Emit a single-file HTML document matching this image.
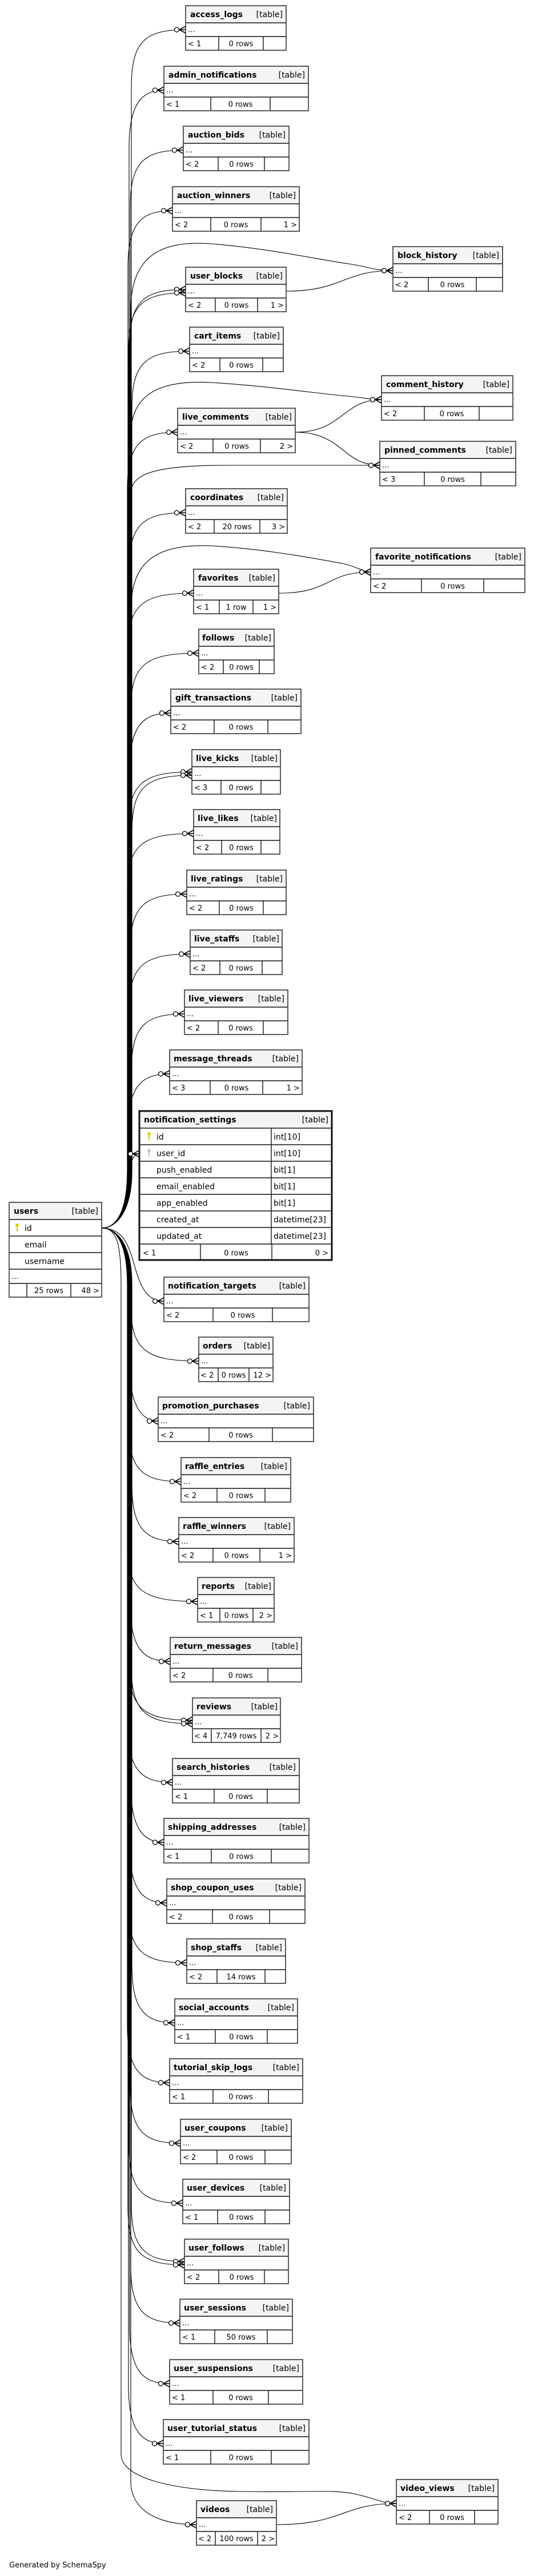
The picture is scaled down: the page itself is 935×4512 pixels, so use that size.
<!DOCTYPE html>
<html><head><meta charset="utf-8"><style>
html,body{margin:0;padding:0;background:#fff;}
svg{display:block;}
.h{fill:#f4f4f4;}
.o{fill:none;stroke:#333;stroke-width:1.6;}
.l{fill:none;stroke:#111;stroke-width:1.4;}
.n{font:bold 14px "DejaVu Sans","Liberation Sans",sans-serif;fill:#000;}
.t{font:14px "DejaVu Sans","Liberation Sans",sans-serif;fill:#000;text-anchor:end;}
.d{font:13px "DejaVu Sans","Liberation Sans",sans-serif;fill:#000;}
.f{font:13px "DejaVu Sans","Liberation Sans",sans-serif;fill:#000;}
.m{text-anchor:middle;}
.e{text-anchor:end;}
.c{font:14px "DejaVu Sans","Liberation Sans",sans-serif;fill:#000;}
.w{fill:none;stroke:#000;stroke-width:1.1;marker-end:url(#cf);}
.w2{fill:none;stroke:#000;stroke-width:1.1;}
</style></head><body>
<svg width="935" height="4512" viewBox="0 0 935 4512" xmlns="http://www.w3.org/2000/svg">
<defs>
<marker id="cf" markerUnits="userSpaceOnUse" markerWidth="22" markerHeight="14" viewBox="0 -7 22 14" refX="22" refY="0" orient="auto">
<path d="M11,0 L22,-6 M11,0 L22,0 M11,0 L22,6" stroke="#000" stroke-width="1.6" fill="none"/>
<circle cx="6.5" cy="0" r="4" fill="#fff" stroke="#000" stroke-width="1.3"/>
</marker>
</defs>

<!-- edges above users -->
<g>
<path class="w" d="M178,2151 C205,2151 230,2120 230,2050 L230,152 C230,72 255,52 325,52"/>
<path class="w" d="M178,2151 C205,2151 226,2120 226,2050 L226,258 C226,178 251,158 287,158"/>
<path class="w" d="M178,2151 C205,2151 228,2120 228,2050 L228,363 C228,283 253,263 321,263"/>
<path class="w" d="M178,2151 C205,2151 224,2120 224,2050 L224,469 C224,389 249,369 302,369"/>
<path class="w" d="M178,2151 C205,2151 229,2120 229,2050 L229,540 C230,450 280,420 370,427 C470,435 560,455 610,462 C640,466 655,474 688,474"/>
<path class="w" d="M178,2151 C205,2151 227,2120 227,2050 L227,607 C227,527 252,507 325,507"/>
<path class="w" d="M178,2151 C205,2151 225,2120 225,2050 L225,613 C225,533 250,513 325,513"/>
<path class="w" d="M178,2151 C205,2151 231,2120 231,2050 L231,715 C231,635 256,615 332,615"/>
<path class="w" d="M178,2151 C205,2151 229,2120 229,2050 L229,760 C230,690 280,665 370,670 C470,676 560,690 610,694 C640,697 650,700 668,700"/>
<path class="w" d="M178,2151 C205,2151 223,2120 223,2050 L223,857 C223,777 248,757 311,757"/>
<path class="w" d="M178,2151 C205,2151 228,2120 228,2050 L228,870 C229,835 250,815 400,815 L665,815"/>
<path class="w" d="M178,2151 C205,2151 226,2120 226,2050 L226,998 C226,918 251,898 325,898"/>
<path class="w" d="M178,2151 C205,2151 230,2120 230,2050 L230,1060 C231,980 280,952 370,956 C470,962 560,980 600,987 C625,992 635,1002 649,1002"/>
<path class="w" d="M178,2151 C205,2151 224,2120 224,2050 L224,1139 C224,1059 249,1039 339,1039"/>
<path class="w" d="M178,2151 C205,2151 229,2120 229,2050 L229,1244 C229,1164 254,1144 348,1144"/>
<path class="w" d="M178,2151 C205,2151 227,2120 227,2050 L227,1349 C227,1269 252,1249 299,1249"/>
<path class="w" d="M178,2151 C205,2151 225,2120 225,2050 L225,1452 C225,1372 250,1352 336,1352"/>
<path class="w" d="M178,2151 C205,2151 231,2120 231,2050 L231,1458 C231,1378 256,1358 336,1358"/>
<path class="w" d="M178,2151 C205,2151 223,2120 223,2050 L223,1560 C223,1480 248,1460 339,1460"/>
<path class="w" d="M178,2151 C205,2151 228,2120 228,2050 L228,1666 C228,1586 253,1566 327,1566"/>
<path class="w" d="M178,2151 C205,2151 226,2120 226,2050 L226,1771 C226,1691 251,1671 333,1671"/>
<path class="w" d="M178,2151 C205,2151 230,2120 230,2050 L230,1876 C230,1796 255,1776 323,1776"/>
<path class="w" d="M178,2151 C205,2151 224,2120 224,2050 L224,1981 C224,1901 249,1881 297,1881"/>
<path class="w" d="M178,2151 C205,2151 220,2120 224,2080 C228,2040 230,2021 244,2021"/>
</g>
<!-- edges below users -->
<g>
<path class="w" d="M178,2151 C215,2151 225,2180 235,2215 C245,2250 255,2279 287,2279"/>
<path class="w" d="M178,2151 C205,2151 229,2180 229,2250 L229,2284 C229,2364 254,2384 348,2384"/>
<path class="w" d="M178,2151 C205,2151 227,2180 227,2250 L227,2389 C227,2469 252,2489 277,2489"/>
<path class="w" d="M178,2151 C205,2151 225,2180 225,2250 L225,2495 C225,2575 250,2595 317,2595"/>
<path class="w" d="M178,2151 C205,2151 231,2180 231,2250 L231,2600 C231,2680 256,2700 313,2700"/>
<path class="w" d="M178,2151 C205,2151 223,2180 223,2250 L223,2705 C223,2785 248,2805 346,2805"/>
<path class="w" d="M178,2151 C205,2151 228,2180 228,2250 L228,2810 C228,2890 253,2910 298,2910"/>
<path class="w" d="M178,2151 C205,2151 226,2180 226,2250 L226,2913 C226,2993 251,3013 337,3013"/>
<path class="w" d="M178,2151 C205,2151 230,2180 230,2250 L230,2919 C230,2999 255,3019 337,3019"/>
<path class="w" d="M178,2151 C205,2151 224,2180 224,2250 L224,3022 C224,3102 249,3122 302,3122"/>
<path class="w" d="M178,2151 C205,2151 229,2180 229,2250 L229,3127 C229,3207 254,3227 287,3227"/>
<path class="w" d="M178,2151 C205,2151 227,2180 227,2250 L227,3233 C227,3313 252,3333 292,3333"/>
<path class="w" d="M178,2151 C205,2151 225,2180 225,2250 L225,3338 C225,3418 250,3438 327,3438"/>
<path class="w" d="M178,2151 C205,2151 231,2180 231,2250 L231,3443 C231,3523 256,3543 306,3543"/>
<path class="w" d="M178,2151 C205,2151 223,2180 223,2250 L223,3548 C223,3628 248,3648 297,3648"/>
<path class="w" d="M178,2151 C205,2151 228,2180 228,2250 L228,3654 C228,3734 253,3754 316,3754"/>
<path class="w" d="M178,2151 C205,2151 226,2180 226,2250 L226,3759 C226,3839 251,3859 320,3859"/>
<path class="w" d="M178,2151 C205,2151 230,2180 230,2250 L230,3861 C230,3941 255,3961 323,3961"/>
<path class="w" d="M178,2151 C205,2151 224,2180 224,2250 L224,3867 C224,3947 249,3967 323,3967"/>
<path class="w" d="M178,2151 C205,2151 229,2180 229,2250 L229,3969 C229,4049 254,4069 315,4069"/>
<path class="w" d="M178,2151 C205,2151 227,2180 227,2250 L227,4075 C227,4155 252,4175 297,4175"/>
<path class="w" d="M178,2151 C205,2151 225,2180 225,2250 L225,4180 C225,4260 250,4280 286,4280"/>
<path class="w" d="M178,2151 C205,2151 212,2180 212,2250 L212,4300 C214,4340 300,4362 420,4364 C540,4366 580,4360 620,4368 C650,4374 670,4385 694,4385"/>
<path class="w" d="M178,2151 C205,2151 229,2180 229,2250 L229,4350 C232,4400 280,4422 344,4422"/>
</g>
<!-- table to table -->
<path class="w" d="M501,510 C600,510 600,474 688,474"/>
<path class="w" d="M517,757 C600,757 600,700 668,700"/>
<path class="w" d="M517,757 C600,757 600,815 665,815"/>
<path class="w" d="M488,1039 C580,1039 570,1002 649,1002"/>
<path class="w" d="M484,4422 C600,4422 600,4385 694,4385"/>

<!-- tables -->
<g transform="translate(325,10)"><rect class="h" width="176" height="30"/><rect width="176" height="48" y="30" fill="#fff"/><path class="l" d="M0,30H176M0,54H176M58,54V78M136,54V78"/><rect class="o" width="176" height="78"/><text class="n" x="8" y="20">access_logs</text><text class="t" x="170" y="20">[table]</text><text class="d" x="4" y="46">...</text><text class="f" x="4" y="71">&lt; 1</text><text class="f m" x="97" y="71">0 rows</text></g>

<g transform="translate(287,116)"><rect class="h" width="253" height="30"/><rect width="253" height="48" y="30" fill="#fff"/><path class="l" d="M0,30H253M0,54H253M82,54V78M186,54V78"/><rect class="o" width="253" height="78"/><text class="n" x="8" y="20">admin_notifications</text><text class="t" x="247" y="20">[table]</text><text class="d" x="4" y="46">...</text><text class="f" x="4" y="71">&lt; 1</text><text class="f m" x="134" y="71">0 rows</text></g>

<g transform="translate(321,221)"><rect class="h" width="185" height="30"/><rect width="185" height="48" y="30" fill="#fff"/><path class="l" d="M0,30H185M0,54H185M61,54V78M142,54V78"/><rect class="o" width="185" height="78"/><text class="n" x="8" y="20">auction_bids</text><text class="t" x="179" y="20">[table]</text><text class="d" x="4" y="46">...</text><text class="f" x="4" y="71">&lt; 2</text><text class="f m" x="101.5" y="71">0 rows</text></g>

<g transform="translate(302,327)"><rect class="h" width="222" height="30"/><rect width="222" height="48" y="30" fill="#fff"/><path class="l" d="M0,30H222M0,54H222M67,54V78M155,54V78"/><rect class="o" width="222" height="78"/><text class="n" x="8" y="20">auction_winners</text><text class="t" x="216" y="20">[table]</text><text class="d" x="4" y="46">...</text><text class="f" x="4" y="71">&lt; 2</text><text class="f m" x="111" y="71">0 rows</text><text class="f e" x="218" y="71">1 &gt;</text></g>

<g transform="translate(688,432)"><rect class="h" width="192" height="30"/><rect width="192" height="48" y="30" fill="#fff"/><path class="l" d="M0,30H192M0,54H192M62,54V78M146,54V78"/><rect class="o" width="192" height="78"/><text class="n" x="8" y="20">block_history</text><text class="t" x="186" y="20">[table]</text><text class="d" x="4" y="46">...</text><text class="f" x="4" y="71">&lt; 2</text><text class="f m" x="104" y="71">0 rows</text></g>

<g transform="translate(325,468)"><rect class="h" width="176" height="30"/><rect width="176" height="48" y="30" fill="#fff"/><path class="l" d="M0,30H176M0,54H176M52,54V78M126,54V78"/><rect class="o" width="176" height="78"/><text class="n" x="8" y="20">user_blocks</text><text class="t" x="170" y="20">[table]</text><text class="d" x="4" y="46">...</text><text class="f" x="4" y="71">&lt; 2</text><text class="f m" x="89" y="71">0 rows</text><text class="f e" x="172" y="71">1 &gt;</text></g>

<g transform="translate(332,573)"><rect class="h" width="164" height="30"/><rect width="164" height="48" y="30" fill="#fff"/><path class="l" d="M0,30H164M0,54H164M53,54V78M128,54V78"/><rect class="o" width="164" height="78"/><text class="n" x="8" y="20">cart_items</text><text class="t" x="158" y="20">[table]</text><text class="d" x="4" y="46">...</text><text class="f" x="4" y="71">&lt; 2</text><text class="f m" x="90.5" y="71">0 rows</text></g>

<g transform="translate(668,658)"><rect class="h" width="230" height="30"/><rect width="230" height="48" y="30" fill="#fff"/><path class="l" d="M0,30H230M0,54H230M75,54V78M171,54V78"/><rect class="o" width="230" height="78"/><text class="n" x="8" y="20">comment_history</text><text class="t" x="224" y="20">[table]</text><text class="d" x="4" y="46">...</text><text class="f" x="4" y="71">&lt; 2</text><text class="f m" x="123" y="71">0 rows</text></g>

<g transform="translate(311,715)"><rect class="h" width="206" height="30"/><rect width="206" height="48" y="30" fill="#fff"/><path class="l" d="M0,30H206M0,54H206M62,54V78M145,54V78"/><rect class="o" width="206" height="78"/><text class="n" x="8" y="20">live_comments</text><text class="t" x="200" y="20">[table]</text><text class="d" x="4" y="46">...</text><text class="f" x="4" y="71">&lt; 2</text><text class="f m" x="103.5" y="71">0 rows</text><text class="f e" x="202" y="71">2 &gt;</text></g>

<g transform="translate(665,773)"><rect class="h" width="238" height="30"/><rect width="238" height="48" y="30" fill="#fff"/><path class="l" d="M0,30H238M0,54H238M78,54V78M177,54V78"/><rect class="o" width="238" height="78"/><text class="n" x="8" y="20">pinned_comments</text><text class="t" x="232" y="20">[table]</text><text class="d" x="4" y="46">...</text><text class="f" x="4" y="71">&lt; 3</text><text class="f m" x="127.5" y="71">0 rows</text></g>

<g transform="translate(325,856)"><rect class="h" width="178" height="30"/><rect width="178" height="48" y="30" fill="#fff"/><path class="l" d="M0,30H178M0,54H178M50,54V78M130,54V78"/><rect class="o" width="178" height="78"/><text class="n" x="8" y="20">coordinates</text><text class="t" x="172" y="20">[table]</text><text class="d" x="4" y="46">...</text><text class="f" x="4" y="71">&lt; 2</text><text class="f m" x="90" y="71">20 rows</text><text class="f e" x="174" y="71">3 &gt;</text></g>

<g transform="translate(649,960)"><rect class="h" width="270" height="30"/><rect width="270" height="48" y="30" fill="#fff"/><path class="l" d="M0,30H270M0,54H270M89,54V78M198,54V78"/><rect class="o" width="270" height="78"/><text class="n" x="8" y="20">favorite_notifications</text><text class="t" x="264" y="20">[table]</text><text class="d" x="4" y="46">...</text><text class="f" x="4" y="71">&lt; 2</text><text class="f m" x="143.5" y="71">0 rows</text></g>

<g transform="translate(339,997)"><rect class="h" width="149" height="30"/><rect width="149" height="48" y="30" fill="#fff"/><path class="l" d="M0,30H149M0,54H149M45,54V78M104,54V78"/><rect class="o" width="149" height="78"/><text class="n" x="8" y="20">favorites</text><text class="t" x="143" y="20">[table]</text><text class="d" x="4" y="46">...</text><text class="f" x="4" y="71">&lt; 1</text><text class="f m" x="74.5" y="71">1 row</text><text class="f e" x="145" y="71">1 &gt;</text></g>

<g transform="translate(348,1102)"><rect class="h" width="132" height="30"/><rect width="132" height="48" y="30" fill="#fff"/><path class="l" d="M0,30H132M0,54H132M43,54V78M106,54V78"/><rect class="o" width="132" height="78"/><text class="n" x="6" y="20">follows</text><text class="t" x="127" y="20">[table]</text><text class="d" x="4" y="46">...</text><text class="f" x="4" y="71">&lt; 2</text><text class="f m" x="74.5" y="71">0 rows</text></g>

<g transform="translate(299,1207)"><rect class="h" width="228" height="30"/><rect width="228" height="48" y="30" fill="#fff"/><path class="l" d="M0,30H228M0,54H228M76,54V78M170,54V78"/><rect class="o" width="228" height="78"/><text class="n" x="8" y="20">gift_transactions</text><text class="t" x="222" y="20">[table]</text><text class="d" x="4" y="46">...</text><text class="f" x="4" y="71">&lt; 2</text><text class="f m" x="123" y="71">0 rows</text></g>

<g transform="translate(336,1313)"><rect class="h" width="155" height="30"/><rect width="155" height="48" y="30" fill="#fff"/><path class="l" d="M0,30H155M0,54H155M51,54V78M121,54V78"/><rect class="o" width="155" height="78"/><text class="n" x="7" y="20">live_kicks</text><text class="t" x="150" y="20">[table]</text><text class="d" x="4" y="46">...</text><text class="f" x="4" y="71">&lt; 3</text><text class="f m" x="86" y="71">0 rows</text></g>

<g transform="translate(339,1418)"><rect class="h" width="151" height="30"/><rect width="151" height="48" y="30" fill="#fff"/><path class="l" d="M0,30H151M0,54H151M49,54V78M118,54V78"/><rect class="o" width="151" height="78"/><text class="n" x="7" y="20">live_likes</text><text class="t" x="146" y="20">[table]</text><text class="d" x="4" y="46">...</text><text class="f" x="4" y="71">&lt; 2</text><text class="f m" x="83.5" y="71">0 rows</text></g>

<g transform="translate(327,1524)"><rect class="h" width="174" height="30"/><rect width="174" height="48" y="30" fill="#fff"/><path class="l" d="M0,30H174M0,54H174M57,54V78M134,54V78"/><rect class="o" width="174" height="78"/><text class="n" x="7" y="20">live_ratings</text><text class="t" x="168" y="20">[table]</text><text class="d" x="4" y="46">...</text><text class="f" x="4" y="71">&lt; 2</text><text class="f m" x="95.5" y="71">0 rows</text></g>

<g transform="translate(333,1629)"><rect class="h" width="161" height="30"/><rect width="161" height="48" y="30" fill="#fff"/><path class="l" d="M0,30H161M0,54H161M52,54V78M126,54V78"/><rect class="o" width="161" height="78"/><text class="n" x="7" y="20">live_staffs</text><text class="t" x="156" y="20">[table]</text><text class="d" x="4" y="46">...</text><text class="f" x="4" y="71">&lt; 2</text><text class="f m" x="89" y="71">0 rows</text></g>

<g transform="translate(323,1734)"><rect class="h" width="181" height="30"/><rect width="181" height="48" y="30" fill="#fff"/><path class="l" d="M0,30H181M0,54H181M59,54V78M138,54V78"/><rect class="o" width="181" height="78"/><text class="n" x="7" y="20">live_viewers</text><text class="t" x="175" y="20">[table]</text><text class="d" x="4" y="46">...</text><text class="f" x="4" y="71">&lt; 2</text><text class="f m" x="98.5" y="71">0 rows</text></g>

<g transform="translate(297,1839)"><rect class="h" width="232" height="30"/><rect width="232" height="48" y="30" fill="#fff"/><path class="l" d="M0,30H232M0,54H232M71,54V78M163,54V78"/><rect class="o" width="232" height="78"/><text class="n" x="7" y="20">message_threads</text><text class="t" x="226" y="20">[table]</text><text class="d" x="4" y="46">...</text><text class="f" x="4" y="71">&lt; 3</text><text class="f m" x="117" y="71">0 rows</text><text class="f e" x="228" y="71">1 &gt;</text></g>

<!-- notification_settings -->
<g transform="translate(244,1946)"><rect class="h" width="337" height="30"/><rect width="337" height="231" y="30" fill="#fff"/>
<path class="l" stroke-width="1.8" d="M0,30H337M0,59H337M0,88H337M0,117H337M0,146H337M0,175H337M0,204H337M0,233H337M231,30V233M107,233V261M232,233V261"/>
<rect width="337" height="261" fill="none" stroke="#111" stroke-width="3"/>
<text class="n" x="8" y="20">notification_settings</text><text class="t" x="331" y="20">[table]</text>
<g fill="#d8d000"><circle cx="17" cy="40" r="3"/><rect x="16" y="40" width="2.2" height="11"/></g>
<g fill="#c4c4c4"><circle cx="17" cy="69" r="3"/><rect x="16" y="69" width="2.2" height="11"/></g>
<text class="c" x="30" y="50">id</text><text class="c" x="235" y="50">int[10]</text>
<text class="c" x="30" y="79">user_id</text><text class="c" x="235" y="79">int[10]</text>
<text class="c" x="30" y="108">push_enabled</text><text class="c" x="235" y="108">bit[1]</text>
<text class="c" x="30" y="137">email_enabled</text><text class="c" x="235" y="137">bit[1]</text>
<text class="c" x="30" y="166">app_enabled</text><text class="c" x="235" y="166">bit[1]</text>
<text class="c" x="30" y="195">created_at</text><text class="c" x="235" y="195">datetime[23]</text>
<text class="c" x="30" y="224">updated_at</text><text class="c" x="235" y="224">datetime[23]</text>
<text class="f" x="6" y="253">&lt; 1</text><text class="f m" x="169.5" y="253">0 rows</text><text class="f e" x="331" y="253">0 &gt;</text>
</g>

<!-- users -->
<g transform="translate(16,2106)"><rect class="h" width="162" height="30"/><rect width="162" height="136" y="30" fill="#fff"/>
<path class="l" stroke-width="1.6" d="M0,30H162M0,59H162M0,88H162M0,117H162M0,142H162M31,142V166M108,142V166"/>
<rect class="o" width="162" height="166"/>
<text class="n" x="8" y="20">users</text><text class="t" x="156" y="20">[table]</text>
<g fill="#d8d000"><circle cx="14" cy="40" r="3"/><rect x="13" y="40" width="2.2" height="11"/></g>
<text class="c" x="27" y="50">id</text><text class="c" x="27" y="79">email</text><text class="c" x="27" y="108">username</text>
<text class="d" x="4" y="134">...</text>
<text class="f m" x="69.5" y="159">25 rows</text><text class="f e" x="158" y="159">48 &gt;</text>
</g>

<g transform="translate(287,2237)"><rect class="h" width="254" height="30"/><rect width="254" height="48" y="30" fill="#fff"/><path class="l" d="M0,30H254M0,54H254M86,54V78M190,54V78"/><rect class="o" width="254" height="78"/><text class="n" x="7" y="20">notification_targets</text><text class="t" x="248" y="20">[table]</text><text class="d" x="4" y="46">...</text><text class="f" x="4" y="71">&lt; 2</text><text class="f m" x="138" y="71">0 rows</text></g>

<g transform="translate(348,2342)"><rect class="h" width="130" height="30"/><rect width="130" height="48" y="30" fill="#fff"/><path class="l" d="M0,30H130M0,54H130M34,54V78M88,54V78"/><rect class="o" width="130" height="78"/><text class="n" x="7" y="20">orders</text><text class="t" x="125" y="20">[table]</text><text class="d" x="4" y="46">...</text><text class="f" x="3" y="71">&lt; 2</text><text class="f m" x="61" y="71">0 rows</text><text class="f e" x="127" y="71">12 &gt;</text></g>

<g transform="translate(277,2447)"><rect class="h" width="272" height="30"/><rect width="272" height="48" y="30" fill="#fff"/><path class="l" d="M0,30H272M0,54H272M89,54V78M200,54V78"/><rect class="o" width="272" height="78"/><text class="n" x="7" y="20">promotion_purchases</text><text class="t" x="266" y="20">[table]</text><text class="d" x="4" y="46">...</text><text class="f" x="4" y="71">&lt; 2</text><text class="f m" x="144.5" y="71">0 rows</text></g>

<g transform="translate(317,2553)"><rect class="h" width="192" height="30"/><rect width="192" height="48" y="30" fill="#fff"/><path class="l" d="M0,30H192M0,54H192M63,54V78M147,54V78"/><rect class="o" width="192" height="78"/><text class="n" x="7" y="20">raffle_entries</text><text class="t" x="186" y="20">[table]</text><text class="d" x="4" y="46">...</text><text class="f" x="4" y="71">&lt; 2</text><text class="f m" x="105" y="71">0 rows</text></g>

<g transform="translate(313,2658)"><rect class="h" width="202" height="30"/><rect width="202" height="48" y="30" fill="#fff"/><path class="l" d="M0,30H202M0,54H202M60,54V78M142,54V78"/><rect class="o" width="202" height="78"/><text class="n" x="7" y="20">raffle_winners</text><text class="t" x="196" y="20">[table]</text><text class="d" x="4" y="46">...</text><text class="f" x="4" y="71">&lt; 2</text><text class="f m" x="101" y="71">0 rows</text><text class="f e" x="198" y="71">1 &gt;</text></g>

<g transform="translate(346,2763)"><rect class="h" width="134" height="30"/><rect width="134" height="48" y="30" fill="#fff"/><path class="l" d="M0,30H134M0,54H134M39,54V78M97,54V78"/><rect class="o" width="134" height="78"/><text class="n" x="7" y="20">reports</text><text class="t" x="129" y="20">[table]</text><text class="d" x="4" y="46">...</text><text class="f" x="4" y="71">&lt; 1</text><text class="f m" x="68" y="71">0 rows</text><text class="f e" x="131" y="71">2 &gt;</text></g>

<g transform="translate(298,2868)"><rect class="h" width="230" height="30"/><rect width="230" height="48" y="30" fill="#fff"/><path class="l" d="M0,30H230M0,54H230M75,54V78M171,54V78"/><rect class="o" width="230" height="78"/><text class="n" x="7" y="20">return_messages</text><text class="t" x="224" y="20">[table]</text><text class="d" x="4" y="46">...</text><text class="f" x="4" y="71">&lt; 2</text><text class="f m" x="123" y="71">0 rows</text></g>

<g transform="translate(337,2974)"><rect class="h" width="154" height="30"/><rect width="154" height="48" y="30" fill="#fff"/><path class="l" d="M0,30H154M0,54H154M33,54V78M120,54V78"/><rect class="o" width="154" height="78"/><text class="n" x="7" y="20">reviews</text><text class="t" x="149" y="20">[table]</text><text class="d" x="4" y="46">...</text><text class="f" x="3" y="71">&lt; 4</text><text class="f m" x="76.5" y="71">7,749 rows</text><text class="f e" x="151" y="71">2 &gt;</text></g>

<g transform="translate(302,3080)"><rect class="h" width="222" height="30"/><rect width="222" height="48" y="30" fill="#fff"/><path class="l" d="M0,30H222M0,54H222M73,54V78M166,54V78"/><rect class="o" width="222" height="78"/><text class="n" x="7" y="20">search_histories</text><text class="t" x="216" y="20">[table]</text><text class="d" x="4" y="46">...</text><text class="f" x="4" y="71">&lt; 1</text><text class="f m" x="119.5" y="71">0 rows</text></g>

<g transform="translate(287,3185)"><rect class="h" width="254" height="30"/><rect width="254" height="48" y="30" fill="#fff"/><path class="l" d="M0,30H254M0,54H254M83,54V78M188,54V78"/><rect class="o" width="254" height="78"/><text class="n" x="7" y="20">shipping_addresses</text><text class="t" x="248" y="20">[table]</text><text class="d" x="4" y="46">...</text><text class="f" x="4" y="71">&lt; 1</text><text class="f m" x="135.5" y="71">0 rows</text></g>

<g transform="translate(292,3291)"><rect class="h" width="242" height="30"/><rect width="242" height="48" y="30" fill="#fff"/><path class="l" d="M0,30H242M0,54H242M80,54V78M180,54V78"/><rect class="o" width="242" height="78"/><text class="n" x="7" y="20">shop_coupon_uses</text><text class="t" x="236" y="20">[table]</text><text class="d" x="4" y="46">...</text><text class="f" x="4" y="71">&lt; 2</text><text class="f m" x="130" y="71">0 rows</text></g>

<g transform="translate(327,3396)"><rect class="h" width="173" height="30"/><rect width="173" height="48" y="30" fill="#fff"/><path class="l" d="M0,30H173M0,54H173M53,54V78M137,54V78"/><rect class="o" width="173" height="78"/><text class="n" x="7" y="20">shop_staffs</text><text class="t" x="167" y="20">[table]</text><text class="d" x="4" y="46">...</text><text class="f" x="4" y="71">&lt; 2</text><text class="f m" x="95" y="71">14 rows</text></g>

<g transform="translate(306,3501)"><rect class="h" width="215" height="30"/><rect width="215" height="48" y="30" fill="#fff"/><path class="l" d="M0,30H215M0,54H215M71,54V78M162,54V78"/><rect class="o" width="215" height="78"/><text class="n" x="7" y="20">social_accounts</text><text class="t" x="209" y="20">[table]</text><text class="d" x="4" y="46">...</text><text class="f" x="4" y="71">&lt; 1</text><text class="f m" x="116.5" y="71">0 rows</text></g>

<g transform="translate(297,3606)"><rect class="h" width="233" height="30"/><rect width="233" height="48" y="30" fill="#fff"/><path class="l" d="M0,30H233M0,54H233M76,54V78M173,54V78"/><rect class="o" width="233" height="78"/><text class="n" x="7" y="20">tutorial_skip_logs</text><text class="t" x="227" y="20">[table]</text><text class="d" x="4" y="46">...</text><text class="f" x="4" y="71">&lt; 1</text><text class="f m" x="124.5" y="71">0 rows</text></g>

<g transform="translate(316,3712)"><rect class="h" width="194" height="30"/><rect width="194" height="48" y="30" fill="#fff"/><path class="l" d="M0,30H194M0,54H194M64,54V78M148,54V78"/><rect class="o" width="194" height="78"/><text class="n" x="7" y="20">user_coupons</text><text class="t" x="188" y="20">[table]</text><text class="d" x="4" y="46">...</text><text class="f" x="4" y="71">&lt; 2</text><text class="f m" x="106" y="71">0 rows</text></g>

<g transform="translate(320,3817)"><rect class="h" width="187" height="30"/><rect width="187" height="48" y="30" fill="#fff"/><path class="l" d="M0,30H187M0,54H187M61,54V78M144,54V78"/><rect class="o" width="187" height="78"/><text class="n" x="7" y="20">user_devices</text><text class="t" x="181" y="20">[table]</text><text class="d" x="4" y="46">...</text><text class="f" x="4" y="71">&lt; 1</text><text class="f m" x="102.5" y="71">0 rows</text></g>

<g transform="translate(323,3922)"><rect class="h" width="182" height="30"/><rect width="182" height="48" y="30" fill="#fff"/><path class="l" d="M0,30H182M0,54H182M60,54V78M140,54V78"/><rect class="o" width="182" height="78"/><text class="n" x="7" y="20">user_follows</text><text class="t" x="176" y="20">[table]</text><text class="d" x="4" y="46">...</text><text class="f" x="4" y="71">&lt; 2</text><text class="f m" x="100" y="71">0 rows</text></g>

<g transform="translate(315,4027)"><rect class="h" width="197" height="30"/><rect width="197" height="48" y="30" fill="#fff"/><path class="l" d="M0,30H197M0,54H197M61,54V78M153,54V78"/><rect class="o" width="197" height="78"/><text class="n" x="7" y="20">user_sessions</text><text class="t" x="191" y="20">[table]</text><text class="d" x="4" y="46">...</text><text class="f" x="4" y="71">&lt; 1</text><text class="f m" x="107" y="71">50 rows</text></g>

<g transform="translate(297,4133)"><rect class="h" width="233" height="30"/><rect width="233" height="48" y="30" fill="#fff"/><path class="l" d="M0,30H233M0,54H233M76,54V78M173,54V78"/><rect class="o" width="233" height="78"/><text class="n" x="7" y="20">user_suspensions</text><text class="t" x="227" y="20">[table]</text><text class="d" x="4" y="46">...</text><text class="f" x="4" y="71">&lt; 1</text><text class="f m" x="124.5" y="71">0 rows</text></g>

<g transform="translate(286,4238)"><rect class="h" width="255" height="30"/><rect width="255" height="48" y="30" fill="#fff"/><path class="l" d="M0,30H255M0,54H255M83,54V78M189,54V78"/><rect class="o" width="255" height="78"/><text class="n" x="7" y="20">user_tutorial_status</text><text class="t" x="249" y="20">[table]</text><text class="d" x="4" y="46">...</text><text class="f" x="4" y="71">&lt; 1</text><text class="f m" x="136" y="71">0 rows</text></g>

<g transform="translate(694,4343)"><rect class="h" width="178" height="30"/><rect width="178" height="48" y="30" fill="#fff"/><path class="l" d="M0,30H178M0,54H178M58,54V78M137,54V78"/><rect class="o" width="178" height="78"/><text class="n" x="7" y="20">video_views</text><text class="t" x="172" y="20">[table]</text><text class="d" x="4" y="46">...</text><text class="f" x="4" y="71">&lt; 2</text><text class="f m" x="97.5" y="71">0 rows</text></g>

<g transform="translate(344,4380)"><rect class="h" width="140" height="30"/><rect width="140" height="48" y="30" fill="#fff"/><path class="l" d="M0,30H140M0,54H140M33,54V78M107,54V78"/><rect class="o" width="140" height="78"/><text class="n" x="7" y="20">videos</text><text class="t" x="134" y="20">[table]</text><text class="d" x="4" y="46">...</text><text class="f" x="3" y="71">&lt; 2</text><text class="f m" x="70" y="71">100 rows</text><text class="f e" x="137" y="71">2 &gt;</text></g>

<text class="c" x="16" y="4497" style="font-size:13px">Generated by SchemaSpy</text>
</svg>
</body></html>
